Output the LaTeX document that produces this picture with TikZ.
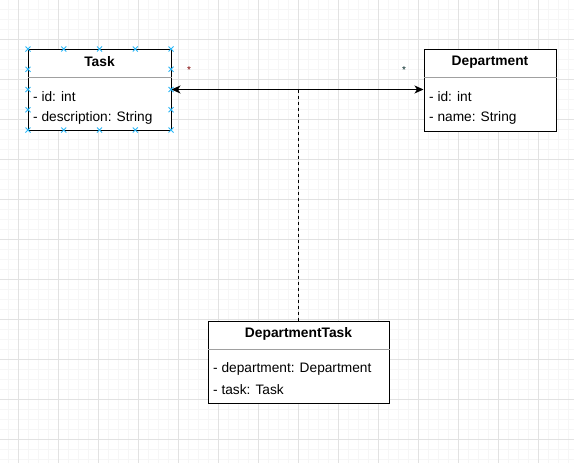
\documentclass[tikz,border=0pt]{standalone}
\usepackage{fontspec}
\setmainfont{Liberation Sans}
\usetikzlibrary{arrows.meta}
\definecolor{gridminor}{RGB}{246,246,246}
\definecolor{gridmajor}{RGB}{226,226,226}
\definecolor{handleblue}{RGB}{41,182,246}
\definecolor{divgray}{RGB}{160,160,160}
\begin{document}
\begin{tikzpicture}[x=1pt,y=-1pt,
	classbox/.style={rectangle,draw,line width=1pt,fill=white,inner sep=0pt},
	classtitle/.style={inner sep=0pt,font=\fontsize{13.8}{15}\selectfont\bfseries},
	attr/.style={anchor=west,inner sep=0pt,font=\fontsize{13.7}{15}\selectfont},
	mult/.style={anchor=base,inner sep=0pt,font=\fontsize{10}{10}\selectfont},
	divider/.style={line width=1pt,color=divgray},
	handle/.style={line width=0.9pt,color=handleblue}]
	\useasboundingbox (0,0) rectangle (574,463);
	\fill[white] (0,0) rectangle (574,463);

	% grid
	\foreach \x in {8,18,...,568} \draw [line width=0.8pt,color=gridminor] (\x,0)--(\x,463);
	\foreach \y in {9,19,...,459} \draw [line width=0.8pt,color=gridminor] (0,\y)--(574,\y);
	\foreach \x in {18,58,...,538} \draw [line width=0.8pt,color=gridmajor] (\x,0)--(\x,463);
	\foreach \y in {39,79,...,439} \draw [line width=0.8pt,color=gridmajor] (0,\y)--(574,\y);

	% classes
	\node (task) [classbox,minimum width=143pt,minimum height=81pt] at (99.5,89.5) {};
	\node (tasktitle) [classtitle] at (99.5,62) {Task};
	\draw [divider] (task.west |- 0,77) -- (task.east |- 0,77);
	\node (taskid) [attr] at (33,97) {- id: int};
	\node (taskdesc) [attr] at (33,118) {- description: String};

	\node (dept) [classbox,minimum width=132pt,minimum height=82pt] at (490,90) {};
	\node (depttitle) [classtitle] at (490,62) {Department};
	\draw [divider] (dept.west |- 0,77) -- (dept.east |- 0,77);
	\node (deptid) [attr] at (429,97) {- id: int};
	\node (deptname) [attr] at (429,118) {- name: String};

	\node (dt) [classbox,minimum width=181pt,minimum height=82pt] at (298.5,362) {};
	\node (dttitle) [classtitle] at (298.5,334) {DepartmentTask};
	\draw [divider] (dt.west |- 0,349) -- (dt.east |- 0,349);
	\node (dtdept) [attr] at (213,369) {- department: Department};
	\node (dttask) [attr] at (213,390) {- task: Task};

	% association
	\draw [line width=1pt,{Stealth[length=9pt,width=8pt,inset=2.5pt]}-{Stealth[length=9pt,width=8pt,inset=2.5pt]}] (task.east) -- (task.east -| dept.west);
	\coordinate (assocmid) at (298,89.5);
	\draw [line width=1pt,dash pattern=on 3pt off 3pt] (assocmid) -- (assocmid |- dt.north);
	\node (taskmult) [mult,color=red!50!black] at (189,73) {*};
	\node (deptmult) [mult,color=black!70!teal] at (404,73) {*};

	% selection handles
	\foreach \x in {28,63.75,99.5,135.25,171}
	  \foreach \y in {49,130}
	    \draw [handle] (\x-2.5,\y-2.5)--(\x+2.5,\y+2.5) (\x-2.5,\y+2.5)--(\x+2.5,\y-2.5);
	\foreach \x in {28,171}
	  \foreach \y in {69.25,89.5,109.75}
	    \draw [handle] (\x-2.5,\y-2.5)--(\x+2.5,\y+2.5) (\x-2.5,\y+2.5)--(\x+2.5,\y-2.5);
\end{tikzpicture}
\end{document}
